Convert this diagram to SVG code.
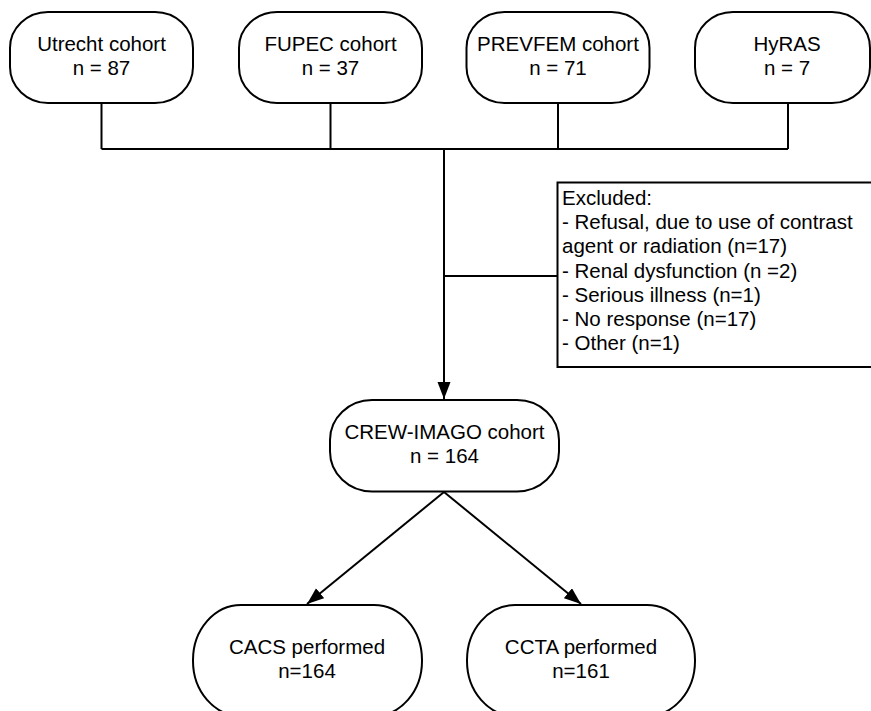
<svg xmlns="http://www.w3.org/2000/svg" width="871" height="711" viewBox="0 0 871 711">
  <style>
    .box { fill: #ffffff; stroke: #000000; stroke-width: 2; }
    .line { fill: none; stroke: #000000; stroke-width: 2; }
    .t { font-family: "Liberation Sans", Arial, sans-serif; font-size: 20.5px; fill: #000000; }
    .c { text-anchor: middle; }
  </style>
  <defs>
    <marker id="arrow" markerUnits="userSpaceOnUse" markerWidth="18" markerHeight="14" refX="17" refY="6.5" orient="auto">
      <path d="M0,0 L17,6.5 L0,13 Z" fill="#000000"/>
    </marker>
  </defs>
  <rect width="871" height="711" fill="#ffffff"/>

  <g id="connectors">
    <path class="line" d="M101.5,103 V149 M330.5,103 V149 M558,103 V149 M788,103 V149 M101.5,149 H788"/>
    <path class="line" d="M444,149 V399" marker-end="url(#arrow)"/>
    <path class="line" d="M444,276 H557.5"/>
    <path class="line" d="M444,492 L307,604" marker-end="url(#arrow)"/>
    <path class="line" d="M444,492 L581,604" marker-end="url(#arrow)"/>
  </g>

  <g id="utrecht">
    <rect class="box" x="10" y="12" width="183" height="91" rx="38" ry="36"/>
    <text class="t c" x="101.5" y="50.5">Utrecht cohort</text>
    <text class="t c" x="101.5" y="75">n = 87</text>
  </g>
  <g id="fupec">
    <rect class="box" x="239" y="12" width="183" height="91" rx="38" ry="36"/>
    <text class="t c" x="330.5" y="50.5">FUPEC cohort</text>
    <text class="t c" x="330.5" y="75">n = 37</text>
  </g>
  <g id="prevfem">
    <rect class="box" x="466.5" y="12" width="183" height="91" rx="38" ry="36"/>
    <text class="t c" x="558" y="50.5">PREVFEM cohort</text>
    <text class="t c" x="558" y="75">n = 71</text>
  </g>
  <g id="hyras">
    <rect class="box" x="695" y="12" width="175" height="91" rx="38" ry="36"/>
    <text class="t c" x="787" y="50.5">HyRAS</text>
    <text class="t c" x="787" y="75">n = 7</text>
  </g>

  <g id="excluded">
    <rect class="box" x="557.5" y="182.5" width="330" height="184.5"/>
    <text class="t" x="562" y="205">Excluded:</text>
    <text class="t" x="562" y="229.2">- Refusal, due to use of contrast</text>
    <text class="t" x="562" y="253.4">agent or radiation (n=17)</text>
    <text class="t" x="562" y="277.6">- Renal dysfunction (n =2)</text>
    <text class="t" x="562" y="301.8">- Serious illness (n=1)</text>
    <text class="t" x="562" y="326">- No response (n=17)</text>
    <text class="t" x="562" y="350.2">- Other (n=1)</text>
  </g>

  <g id="crew-imago">
    <rect class="box" x="330" y="400" width="229" height="91.5" rx="42" ry="40"/>
    <text class="t c" x="444.5" y="438.5">CREW-IMAGO cohort</text>
    <text class="t c" x="444.5" y="463">n = 164</text>
  </g>

  <g id="cacs">
    <rect class="box" x="193" y="605" width="229" height="111" rx="48" ry="55"/>
    <text class="t c" x="307" y="653.5">CACS performed</text>
    <text class="t c" x="307" y="678">n=164</text>
  </g>
  <g id="ccta">
    <rect class="box" x="467" y="605" width="228" height="111" rx="48" ry="55"/>
    <text class="t c" x="581" y="653.5">CCTA performed</text>
    <text class="t c" x="581" y="678">n=161</text>
  </g>
</svg>
